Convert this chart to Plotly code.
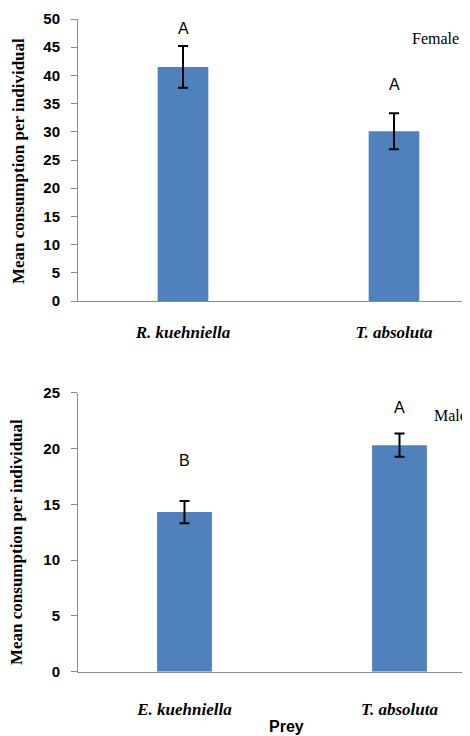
import plotly.graph_objects as go

# Data
prey_female = ["R. kuehniella", "T. absoluta"]
female_mean = [41.5, 30.1]
female_err = [3.7, 3.2]
female_letters = ["A", "A"]

prey_male = ["E. kuehniella", "T. absoluta"]
male_mean = [14.3, 20.3]
male_err = [1.0, 1.05]
male_letters = ["B", "A"]

female_ticks = list(range(0, 51, 5))
male_ticks = list(range(0, 26, 5))

BLUE = "#4F81BD"
OFF = 8  # browser default body margin
W, H = 470 - OFF, 736 - OFF

fig = go.Figure()

fig.add_trace(go.Bar(
    x=[f"<b><i>{p}</i></b>" for p in prey_female], y=female_mean,
    marker=dict(color=BLUE, line=dict(width=0)), width=0.24,
    error_y=dict(type="data", array=female_err, color="black", thickness=2, width=5),
    xaxis="x", yaxis="y", showlegend=False,
))
fig.add_trace(go.Bar(
    x=[f"<b><i>{p}</i></b>" for p in prey_male], y=male_mean,
    marker=dict(color=BLUE, line=dict(width=0)), width=0.255,
    error_y=dict(type="data", array=male_err, color="black", thickness=2, width=5),
    xaxis="x2", yaxis="y2", showlegend=False,
))

def px_x(p):
    return (p - OFF) / W

def px_y(p):
    return 1 - (p - OFF) / H

axis_common = dict(showgrid=False, zeroline=False, showline=True, linecolor="#8c8c8c",
                   linewidth=1, automargin=False)
tickfont_y = dict(family="Liberation Sans, Arial", size=15, color="black", weight="bold")
tickfont_x = dict(family="Liberation Serif, Times New Roman", size=17, color="black")

# x ranges so that the category centres land where the reference puts them
xl = 78
r1_top = (470 - xl) / 211 - (183 - xl) / 211
r1_bot = (470 - xl) / 215 - (184.5 - xl) / 215

fig.update_layout(
    width=W, height=H, margin=dict(l=0, r=0, t=0, b=0, autoexpand=False),
    plot_bgcolor="white", paper_bgcolor="white",
    bargap=0.5,
    xaxis=dict(domain=[px_x(xl), 1], range=[-(183 - xl) / 211, r1_top], ticks="", tickfont=tickfont_x,
               ticklabelstandoff=16, anchor="y", **axis_common),
    yaxis=dict(domain=[px_y(301), px_y(19)], range=[0, 50], tickvals=female_ticks,
               ticks="outside", ticklen=6, tickcolor="#8c8c8c", tickfont=tickfont_y,
               ticklabelstandoff=8, anchor="x", **axis_common),
    xaxis2=dict(domain=[px_x(xl), 1], range=[-(184.5 - xl) / 215, r1_bot], ticks="", tickfont=tickfont_x,
                ticklabelstandoff=22, anchor="y2", **axis_common),
    yaxis2=dict(domain=[px_y(671.7), px_y(392.7)], range=[0, 25], tickvals=male_ticks,
                ticks="outside", ticklen=6, tickcolor="#8c8c8c", tickfont=tickfont_y,
                ticklabelstandoff=8, anchor="x2", **axis_common),
)

letter_font = dict(family="Liberation Sans, Arial", size=16, color="black")
ann = []
# letters (positions in data units)
for i, (lt, yy) in enumerate(zip(female_letters, [48.4, 38.3])):
    ann.append(dict(x=i, y=yy, xref="x", yref="y", text=lt, showarrow=False, font=letter_font,
                    xanchor="center", yanchor="middle"))
for i, (lt, yy) in enumerate(zip(male_letters, [18.9, 23.7])):
    ann.append(dict(x=i, y=yy, xref="x2", yref="y2", text=lt, showarrow=False, font=letter_font,
                    xanchor="center", yanchor="middle"))

serif = "Liberation Serif, Times New Roman"
ann.append(dict(x=px_x(435), y=px_y(39), xref="paper", yref="paper", text="Female",
                xanchor="center", yanchor="middle",
                showarrow=False, font=dict(family=serif, size=16, color="black")))
ann.append(dict(x=px_x(432), y=px_y(415), xref="paper", yref="paper", text="Male",
                xanchor="left", yanchor="middle",
                showarrow=False, font=dict(family=serif, size=16, color="black")))
ytitle = "<b>Mean consumption per individual</b>"
ann.append(dict(x=px_x(18), y=px_y(161), xref="paper", yref="paper", text=ytitle, textangle=-90,
                xanchor="center", yanchor="middle",
                showarrow=False, font=dict(family=serif, size=17, color="black")))
ann.append(dict(x=px_x(16), y=px_y(542), xref="paper", yref="paper", text=ytitle, textangle=-90,
                xanchor="center", yanchor="middle",
                showarrow=False, font=dict(family=serif, size=17, color="black")))
ann.append(dict(x=px_x(286), y=px_y(726), xref="paper", yref="paper", text="<b>Prey</b>",
                xanchor="center", yanchor="middle",
                showarrow=False, font=dict(family="Liberation Sans, Arial", size=16, color="black")))
fig.update_layout(annotations=ann)

fig.write_html("out.html")
